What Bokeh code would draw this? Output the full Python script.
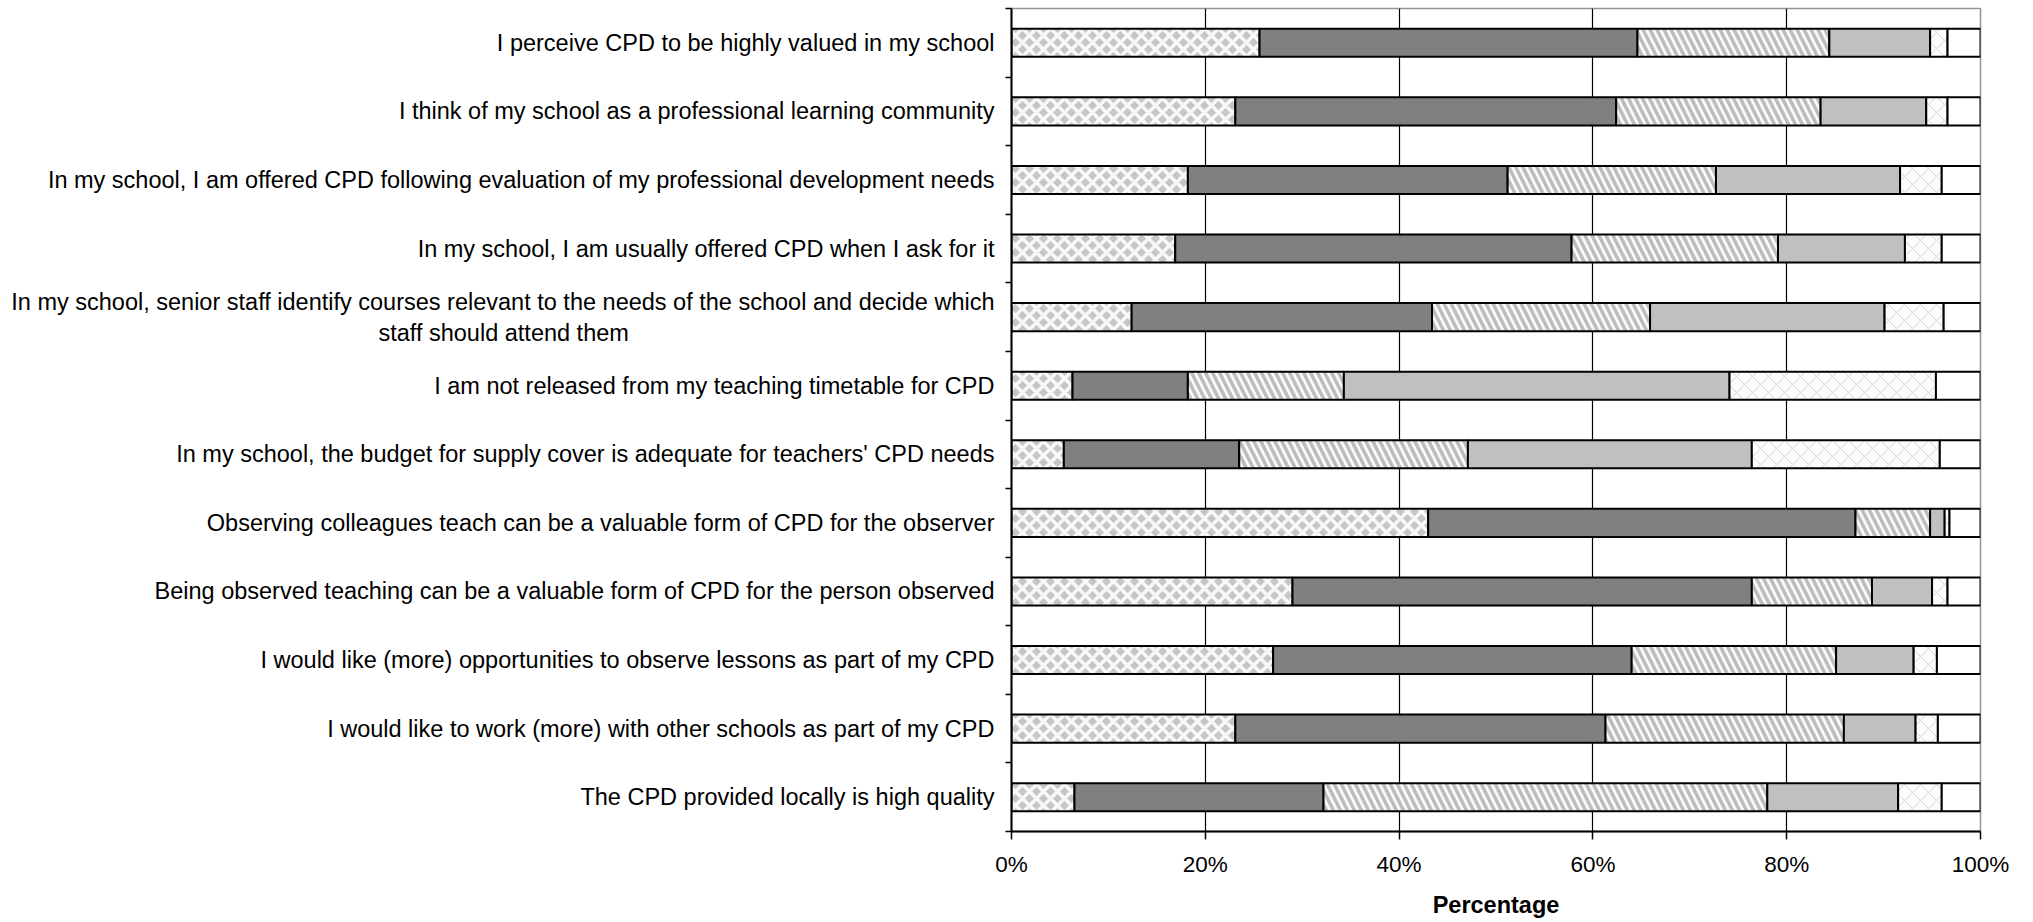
from bokeh.plotting import figure
from bokeh.models import Range1d, FixedTicker, ColumnDataSource
from bokeh.embed import file_html
from bokeh.resources import INLINE
import numpy as np

NBSP = "\u00a0"

categories = [
    "I perceive CPD to be highly valued in my school",
    "I think of my school as a professional learning community",
    "In my school, I am offered CPD following evaluation of my professional development needs",
    "In my school, I am usually offered CPD when I ask for it",
    "In my school, senior staff identify courses relevant to the needs of the school and decide which\nstaff should attend them",
    "I am not released from my teaching timetable for CPD",
    "In my school, the budget for supply cover is adequate for teachers' CPD needs",
    "Observing colleagues teach can be a valuable form of CPD for the observer",
    "Being observed teaching can be a valuable form of CPD for the person observed",
    "I would like (more) opportunities to observe lessons as part of my CPD",
    "I would like to work (more) with other schools as part of my CPD",
    "The CPD provided locally is high quality",
]

series_names = ["Strongly agree", "Agree", "Neither agree nor disagree",
                "Disagree", "Strongly disagree", "No response"]

strongly_agree = [25.6, 23.1, 18.2, 16.9, 12.4, 6.3, 5.4, 43.0, 29.0, 27.0, 23.1, 6.5]
agree          = [39.0, 39.3, 33.0, 40.9, 31.0, 11.9, 18.1, 44.1, 47.4, 37.0, 38.2, 25.7]
neither        = [19.8, 21.1, 21.5, 21.3, 22.5, 16.1, 23.6, 7.7, 12.4, 21.1, 24.6, 45.8]
disagree       = [10.4, 10.9, 19.0, 13.1, 24.2, 39.8, 29.3, 1.5, 6.2, 8.0, 7.4, 13.5]
strongly_dis   = [1.8, 2.2, 4.3, 3.8, 6.1, 21.3, 19.4, 0.5, 1.6, 2.4, 2.3, 4.5]
no_response    = [3.4, 3.4, 4.0, 4.0, 3.8, 4.6, 4.2, 3.2, 3.4, 4.5, 4.4, 4.0]

x_ticks = [0, 20, 40, 60, 80, 100]
x_tick_labels = ["0%", "20%", "40%", "60%", "80%", "100%"]

series = [strongly_agree, agree, neither, disagree, strongly_dis, no_response]
styles = [
    dict(fill_color="#c6c6c6", hatch_pattern="x", hatch_color="#f8f8f8", hatch_weight=3.5, hatch_scale=14),
    dict(fill_color="#808080"),
    dict(fill_color="#fafafa", hatch_pattern="\\", hatch_color="#bdbdbd", hatch_weight=3.5, hatch_scale=14),
    dict(fill_color="#c0c0c0"),
    dict(fill_color="#fcfcfc", hatch_pattern="x", hatch_color="#d6d6d6", hatch_weight=1, hatch_scale=16),
    dict(fill_color="#ffffff"),
]

n = len(categories)
ypos = [n - i - 0.5 for i in range(n)]

FONT = "Liberation Sans"


def centre_second_line(label):
    # the wrapped label's second line is centred under the first one
    if "\n" not in label:
        return label
    first, second = label.split("\n")
    return first + "\n" + second + NBSP * 56


p = figure(width=2030, height=922, x_range=Range1d(0, 100), y_range=Range1d(0, n),
           output_backend="svg", toolbar_location=None,
           min_border_left=1011, min_border_right=50, min_border_top=8, min_border_bottom=91)

p.outline_line_color = "#939393"
p.outline_line_width = 1.5
p.background_fill_color = "white"
p.border_fill_color = "white"

data = dict(y=ypos)
cum = np.zeros(n)
for k, s in enumerate(series):
    arr = np.array(s, dtype=float)
    data[f"l{k}"] = cum.copy()
    data[f"r{k}"] = cum + arr
    cum = cum + arr
src = ColumnDataSource(data)

# grid
p.ygrid.visible = False
p.xgrid.ticker = FixedTicker(ticks=[20, 40, 60, 80])
p.xgrid.grid_line_color = "black"
p.xgrid.grid_line_width = 1.2
p.xgrid.level = "underlay"

for k, st in enumerate(styles):
    p.hbar(y="y", left=f"l{k}", right=f"r{k}", height=0.41, source=src,
           line_color="black", line_width=2, **st)

# x axis
xa = p.xaxis[0]
xa.ticker = FixedTicker(ticks=x_ticks)
xa.major_label_overrides = {t: l for t, l in zip(x_ticks, x_tick_labels)}
xa.major_label_text_font = FONT
xa.major_label_text_font_size = "22.5px"
xa.major_label_text_color = "black"
xa.major_label_standoff = 12
xa.major_tick_out = 8
xa.major_tick_in = 0
xa.minor_tick_out = 0
xa.minor_tick_in = 0
xa.axis_line_color = "black"
xa.axis_line_width = 2
xa.major_tick_line_width = 1.5
xa.axis_label = "Percentage"
xa.axis_label_text_font = FONT
xa.axis_label_text_font_size = "23.5px"
xa.axis_label_text_font_style = "bold"
xa.axis_label_text_color = "black"
xa.axis_label_standoff = 12

# y axis: labels at category centres, tick marks at category boundaries
ya = p.yaxis[0]
ya.ticker = FixedTicker(ticks=ypos, minor_ticks=list(range(n + 1)))
ya.major_label_overrides = {y: centre_second_line(c) for y, c in zip(ypos, categories)}
ya.major_label_text_font = FONT
ya.major_label_text_font_size = "23.5px"
ya.major_label_text_color = "black"
ya.major_label_standoff = 11
ya.major_tick_out = 0
ya.major_tick_in = 0
ya.minor_tick_out = 6
ya.minor_tick_in = 0
ya.minor_tick_line_color = "black"
ya.minor_tick_line_width = 1.5
ya.axis_line_color = "black"
ya.axis_line_width = 2

open("out.html", "w").write(file_html(p, INLINE))
